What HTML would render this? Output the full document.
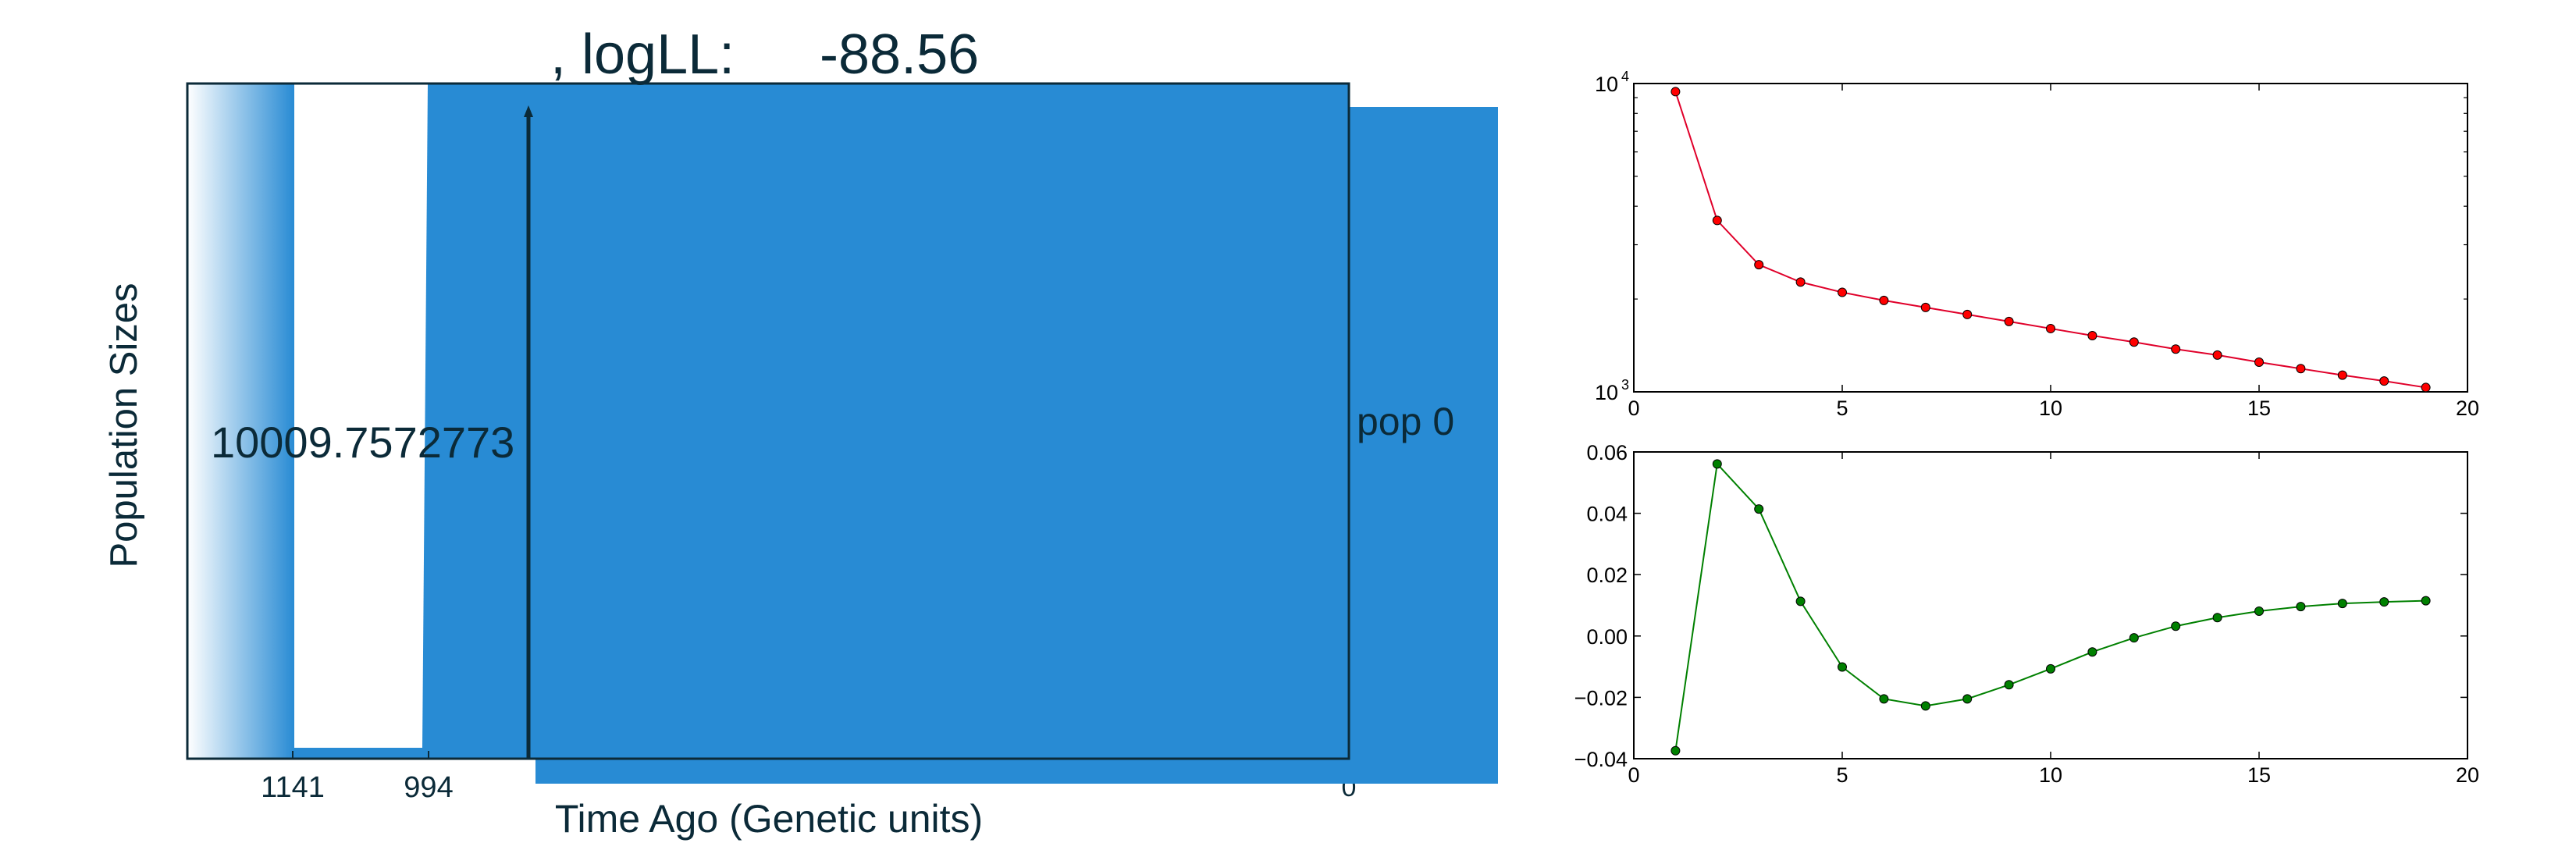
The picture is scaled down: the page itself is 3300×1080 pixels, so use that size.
<!DOCTYPE html>
<html><head><meta charset="utf-8"><style>
html,body{margin:0;padding:0;background:#fff;}
svg{display:block;font-family:"Liberation Sans",sans-serif;}
</style></head><body>
<svg width="3300" height="1080" viewBox="0 0 3300 1080" xmlns="http://www.w3.org/2000/svg">
<defs>
<linearGradient id="grad" x1="0" x2="1" y1="0" y2="0"><stop offset="0" stop-color="#ffffff"/><stop offset="1" stop-color="#288bd4"/></linearGradient>
</defs>
<g id="left-panel">
  <text x="1728" y="1020" font-size="34" fill="#0b2a38" text-anchor="middle">0</text>
  <rect x="686" y="137" width="1233" height="867" fill="#288bd4"/>
  <rect x="240" y="107" width="137" height="865" fill="url(#grad)"/>
  <polygon points="377,107 548,107 541,958 377,958" fill="#ffffff"/>
  <polygon points="377,958 541,958 541,972 377,972" fill="#288bd4"/>
  <polygon points="548,107 1728,107 1728,972 541,972 541,958" fill="#288bd4"/>
  <rect x="240" y="107" width="1488" height="865" fill="none" stroke="#0b2a38" stroke-width="3"/>
  <line x1="375" y1="972" x2="375" y2="962" stroke="#0b2a38" stroke-width="2"/>
  <line x1="549" y1="972" x2="549" y2="962" stroke="#0b2a38" stroke-width="2"/>
  <line x1="677" y1="972" x2="677" y2="146" stroke="#0b2a38" stroke-width="5"/>
  <polygon points="677,135 671,150 683,150" fill="#0b2a38"/>
  <text x="375" y="1011" font-size="38" fill="#0b2a38" text-anchor="middle" dominant-baseline="middle">1141</text>
  <text x="549" y="1011" font-size="38" fill="#0b2a38" text-anchor="middle" dominant-baseline="middle">994</text>
  <text x="705" y="94" font-size="72" fill="#0b2a38">, logLL:</text>
  <text x="1050" y="94" font-size="72" fill="#0b2a38">-88.56</text>
  <text x="270" y="586" font-size="56" fill="#0b2a38">10009.7572773</text>
  <text x="1738" y="557" font-size="50" fill="#0b2a38">pop 0</text>
  <text x="0" y="0" font-size="49" fill="#0b2a38" text-anchor="middle" transform="translate(175,545) rotate(-90)">Population Sizes</text>
  <text x="985" y="1066" font-size="50" fill="#0b2a38" text-anchor="middle">Time Ago (Genetic units)</text>
</g>
<g id="top-plot"></g>
<g id="bot-plot"></g>
</svg>
<script>
const xs = [1,2,3,4,5,6,7,8,9,10,11,12,13,14,15,16,17,18,19];
const sizes = [9410,3597,2584,2270,2102,1979,1878,1782,1691,1604,1522,1450,1376,1316,1248,1189,1133,1084,1033];
const rates = [-0.0374,0.0561,0.0414,0.0113,-0.0101,-0.0205,-0.0228,-0.0205,-0.0159,-0.0107,-0.0052,-0.0006,0.0032,0.0060,0.0081,0.0096,0.0106,0.0111,0.0115];
const xTicks = [0,5,10,15,20];
const rateTicks = [-0.04,-0.02,0.00,0.02,0.04,0.06];
const NS='http://www.w3.org/2000/svg';
const X0=2093, X1=3161;
function sx(v){return X0+(v-0)/(20-0)*(X1-X0);}
function mk(parent,tag,attrs){const e=document.createElementNS(NS,tag);for(const k in attrs)e.setAttribute(k,attrs[k]);parent.appendChild(e);return e;}
function frame(g,top,bot,yTicks,yMinor,yLabel,stroke,fill,vals,sy,name){
  const r=mk(g,'rect',{x:X0,y:top,width:X1-X0,height:bot-top,fill:'none',stroke:'#000','stroke-width':2});
  
  
  xTicks.forEach(t=>{
    mk(g,'line',{x1:sx(t),x2:sx(t),y1:bot,y2:bot-9,stroke:'#000','stroke-width':1.5});
    mk(g,'line',{x1:sx(t),x2:sx(t),y1:top,y2:top+9,stroke:'#000','stroke-width':1.5});
    const tx=mk(g,'text',{x:sx(t),y:bot+30,'font-size':27,'text-anchor':'middle'});
    tx.textContent=t;
    
    
  });
  yTicks.forEach(t=>{
    const y=sy(t);
    mk(g,'line',{x1:X0,x2:X0+9,y1:y,y2:y,stroke:'#000','stroke-width':1.5});
    mk(g,'line',{x1:X1,x2:X1-9,y1:y,y2:y,stroke:'#000','stroke-width':1.5});
    yLabel(t,y);
  });
  yMinor.forEach(t=>{
    const y=sy(t);
    mk(g,'line',{x1:X0,x2:X0+5,y1:y,y2:y,stroke:'#000','stroke-width':1.2});
    mk(g,'line',{x1:X1,x2:X1-5,y1:y,y2:y,stroke:'#000','stroke-width':1.2});
  });
  const pts=xs.map((x,i)=>sx(x)+','+sy(vals[i])).join(' ');
  const pl=mk(g,'polyline',{points:pts,fill:'none',stroke:stroke,'stroke-width':2});
  
  
  xs.forEach((x,i)=>{
    const c=mk(g,'circle',{cx:sx(x),cy:sy(vals[i]),r:5.5,fill:fill,stroke:'#000','stroke-width':1});
    
    
  });
}
const T0=107,T1=502;
function syTop(v){return T1-(Math.log10(v)-3)*(T1-T0);}
const gTop=document.getElementById('top-plot');
const minors=[2000,3000,4000,5000,6000,7000,8000,9000];
frame(gTop,T0,T1,[1000,10000],minors,(t,y)=>{
  const tx=mk(gTop,'text',{x:X0-20,y:y+10,'font-size':27,'text-anchor':'end'});
  tx.textContent='10';
  
  
  const sp=mk(gTop,'text',{x:X0-6,y:y-3,'font-size':18,'text-anchor':'end'});
  sp.textContent=String(Math.round(Math.log10(t)));
  
  
},'#e0002a','#ff0000',sizes,syTop,'size');
const B0=579,B1=972;
function syBot(v){return B1-(v-(-0.04))/(0.06-(-0.04))*(B1-B0);}
const gBot=document.getElementById('bot-plot');
frame(gBot,B0,B1,rateTicks,[],(t,y)=>{
  const tx=mk(gBot,'text',{x:X0-8,y:y+10,'font-size':27,'text-anchor':'end'});
  tx.textContent=(t<0?'\u2212':'')+Math.abs(t).toFixed(2);
  
  
},'#008000','#008000',rates,syBot,'rate');
</script>
</body></html>
